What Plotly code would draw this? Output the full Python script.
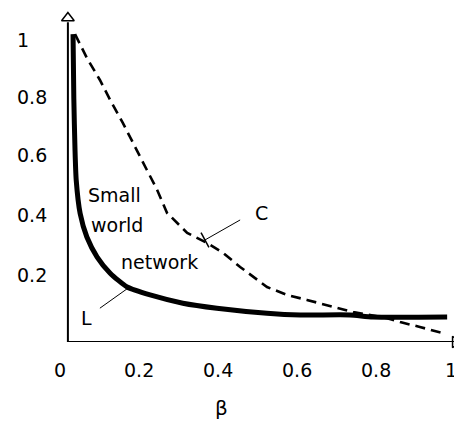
import plotly.graph_objects as go

# Data
beta_L = [0.033, 0.035, 0.038, 0.041, 0.051, 0.068, 0.094, 0.127, 0.170, 0.228, 0.311, 0.397, 0.524, 0.608, 0.734, 0.792, 0.980]
val_L = [1.02, 0.80, 0.626, 0.524, 0.41, 0.33, 0.262, 0.207, 0.16, 0.133, 0.105, 0.088, 0.071, 0.065, 0.065, 0.058, 0.058]

beta_C = [0.038, 0.068, 0.101, 0.127, 0.159, 0.195, 0.220, 0.246, 0.271, 0.322, 0.372, 0.413, 0.456, 0.524, 0.575, 0.625, 0.691, 0.742, 0.828, 0.861, 0.911, 0.970]
val_C = [1.02, 0.939, 0.864, 0.796, 0.718, 0.626, 0.558, 0.490, 0.412, 0.344, 0.310, 0.276, 0.228, 0.160, 0.133, 0.116, 0.092, 0.075, 0.054, 0.041, 0.024, 0.003]

x_ticks = [0, 0.2, 0.4, 0.6, 0.8, 0.99]
x_tick_text = ["0", "0.2", "0.4", "0.6", "0.8", "1"]
y_ticks = [1.0, 0.806, 0.61, 0.405, 0.2]
y_tick_text = ["1", "0.8", "0.6", "0.4", "0.2"]

FONT = "DejaVu Sans"
X0 = 0.02  # position of drawn y-axis line
YMIN, YMAX = -0.027, 1.085
XMAX = 1.01

fig = go.Figure()
fig.add_trace(go.Scatter(x=beta_C, y=val_C, mode="lines",
                         line=dict(color="black", width=2.6, dash="10px,6px"), showlegend=False))
fig.add_trace(go.Scatter(x=beta_L, y=val_L, mode="lines",
                         line=dict(color="black", width=5, shape="spline", smoothing=0.6), showlegend=False))

# axis arrows
fig.add_trace(go.Scatter(x=[X0], y=[1.075], mode="markers",
                         marker=dict(symbol="triangle-up-open", size=11, color="black", line=dict(width=1.5)),
                         showlegend=False, cliponaxis=False))
fig.add_trace(go.Scatter(x=[1.0], y=[YMIN], mode="markers",
                         marker=dict(symbol="triangle-right-open", size=10, color="black", line=dict(width=1.5)),
                         showlegend=False, cliponaxis=False))

shapes = [
    dict(type="line", xref="x", yref="y", x0=X0, x1=X0, y0=YMIN, y1=1.06, line=dict(color="black", width=2)),
    dict(type="line", xref="x", yref="y", x0=X0, x1=1.0, y0=YMIN, y1=YMIN, line=dict(color="black", width=2)),
    # pointer lines
    dict(type="line", xref="x", yref="y", x0=0.456, y0=0.388, x1=0.367, y1=0.32, line=dict(color="black", width=1)),
    dict(type="line", xref="x", yref="y", x0=0.357, y0=0.345, x1=0.377, y1=0.295, line=dict(color="black", width=1.5)),
    dict(type="line", xref="x", yref="y", x0=0.101, y0=0.088, x1=0.172, y1=0.156, line=dict(color="black", width=1)),
]

tf = dict(family=FONT, size=19, color="black")
annotations = [
    dict(x=0.137, y=0.473, text="Small", showarrow=False),
    dict(x=0.144, y=0.371, text="world", showarrow=False),
    dict(x=0.253, y=0.245, text="network", showarrow=False),
    dict(x=0.511, y=0.41, text="C", showarrow=False),
    dict(x=0.068, y=0.054, text="L", showarrow=False),
]
for a in annotations:
    a.update(xref="x", yref="y", font=tf, xanchor="center", yanchor="middle")
for v, t in zip(y_ticks, y_tick_text):
    annotations.append(dict(x=-0.113, xref="paper", y=v, yref="y", text=t, xanchor="left",
                            yanchor="middle", showarrow=False, font=tf))
for v, t in zip(x_ticks, x_tick_text):
    annotations.append(dict(x=v, xref="x", y=-0.086, yref="paper", text=t, showarrow=False,
                            xanchor="center", yanchor="middle", font=tf))
annotations.append(dict(x=0.41, xref="x", y=-0.202, yref="paper", text="β", showarrow=False,
                        xanchor="center", yanchor="middle", font=dict(family=FONT, size=20, color="black")))

# the page body adds an 8px margin, so the figure is drawn 8px smaller and shifted
fig.update_layout(
    width=454, height=426,
    margin=dict(l=52, r=3, t=7, b=92, autoexpand=False),
    paper_bgcolor="white", plot_bgcolor="white",
    shapes=shapes, annotations=annotations,
    xaxis=dict(range=[0, XMAX], showgrid=False, zeroline=False, showline=False,
               showticklabels=False, automargin=False),
    yaxis=dict(range=[YMIN, YMAX], showgrid=False, zeroline=False, showline=False,
               showticklabels=False, automargin=False),
)

fig.write_html("out.html")
